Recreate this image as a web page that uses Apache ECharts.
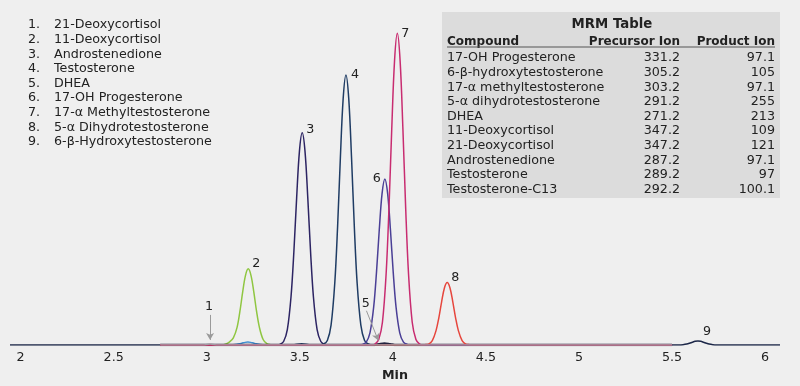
<!DOCTYPE html>
<html>
<head>
<meta charset="utf-8">
<script src="https://cdn.jsdelivr.net/npm/echarts@6/dist/echarts.min.js"></script>
<style>
html,body{margin:0;padding:0;background:#efefef;}
#c{width:800px;height:386px;}
</style>
</head>
<body>
<div id="c"></div>
<script>
// ---- Data (time in min, relative intensity %) ----
const xTicks = [2, 2.5, 3, 3.5, 4, 4.5, 5, 5.5, 6];

const legendNames = ['21-Deoxycortisol','11-Deoxycortisol','Androstenedione','Testosterone','DHEA',
  '17-OH Progesterone','17-α Methyltestosterone','5-α Dihydrotestosterone','6-β-Hydroxytestosterone'];

const tableCompounds = ['17-OH Progesterone','6-β-hydroxytestosterone','17-α methyltestosterone',
  '5-α dihydrotestosterone','DHEA','11-Deoxycortisol','21-Deoxycortisol','Androstenedione','Testosterone','Testosterone-C13'];
const tablePrecursor = ['331.2','305.2','303.2','291.2','271.2','347.2','347.2','287.2','289.2','292.2'];
const tableProduct = ['97.1','105','97.1','255','213','109','121','97.1','97','100.1'];

// 9: 6-β-Hydroxytestosterone (spans whole run)
const trace9 = [[1.943,0],[5.52,0],[5.539,0],[5.559,0.09],[5.579,0.29],[5.594,0.55],[5.609,0.87],[5.624,1.15],
  [5.639,1.25],[5.654,1.15],[5.669,0.87],[5.684,0.55],[5.699,0.29],[5.719,0.09],[5.739,0],[6.08,0]];
// 2: 11-Deoxycortisol
const trace2 = [[2.75,0],[3.08,0],[3.103,0.3],[3.123,1.0],[3.143,2.2],[3.163,5.5],[3.178,10.4],[3.193,16.5],[3.208,21.7],
  [3.223,23.8],[3.238,21.7],[3.253,16.5],[3.268,10.4],[3.283,5.5],[3.303,1.7],[3.323,0.4],[3.343,0.1],[3.37,0],[5.5,0]];
// Testosterone-C13 (small blue bump)
const traceC13 = [[2.75,0],[3.10,0],[3.121,0],[3.141,0.07],[3.161,0.21],[3.176,0.39],[3.191,0.62],[3.206,0.82],
  [3.221,0.9],[3.236,0.82],[3.251,0.62],[3.266,0.39],[3.281,0.21],[3.301,0.07],[3.321,0],[5.5,0]];
// 3: Androstenedione
const trace3 = [[2.75,0],[3.37,0],[3.393,0.2],[3.413,1.1],[3.433,4.8],[3.453,15.2],[3.468,29.0],[3.483,45.9],[3.498,60.5],
  [3.513,66.3],[3.528,60.5],[3.543,45.9],[3.558,29.0],[3.573,15.2],[3.593,4.8],[3.613,1.1],[3.633,0.2],[3.66,0],[5.5,0]];
// 4: Testosterone
const trace4 = [[2.75,0],[3.44,0],[3.47,0.1],[3.51,0.4],[3.55,0.1],[3.60,0],[3.628,0.3],[3.648,1.4],[3.668,6.2],[3.688,19.4],
  [3.703,36.9],[3.718,58.5],[3.733,77.0],[3.748,84.4],[3.763,77.0],[3.778,58.5],[3.793,36.9],[3.808,19.4],
  [3.828,6.2],[3.848,1.4],[3.868,0.3],[3.895,0],[5.5,0]];
// 5: DHEA
const trace5 = [[2.75,0],[3.90,0],[3.925,0.25],[3.955,0.5],[3.985,0.25],[4.01,0],[5.5,0]];
// 6: 17-OH Progesterone
const trace6 = [[2.75,0],[3.81,0],[3.837,0.2],[3.857,0.9],[3.877,3.8],[3.897,11.9],[3.912,22.7],[3.927,36.0],[3.942,47.3],
  [3.957,51.9],[3.972,47.3],[3.987,36.0],[4.002,22.7],[4.017,11.9],[4.037,3.8],[4.057,0.9],[4.077,0.2],[4.10,0],[5.5,0]];
// 8: 5-α Dihydrotestosterone
const trace8 = [[2.75,0],[4.15,0],[4.172,0.1],[4.192,0.3],[4.212,1.4],[4.232,4.5],[4.247,8.5],[4.262,13.5],[4.277,17.8],
  [4.292,19.5],[4.307,17.8],[4.322,13.5],[4.337,8.5],[4.352,4.5],[4.372,1.4],[4.392,0.3],[4.412,0.1],[4.44,0],[5.5,0]];
// 7: 17-α Methyltestosterone
const trace7 = [[2.75,0],[3.88,0],[3.904,0.3],[3.924,1.7],[3.944,7.1],[3.964,22.4],[3.979,42.6],[3.994,67.5],[4.009,88.8],
  [4.024,97.4],[4.039,88.8],[4.054,67.5],[4.069,42.6],[4.084,22.4],[4.104,7.1],[4.124,1.7],[4.144,0.3],[4.17,0],[5.5,0]];
// 1: 21-Deoxycortisol
const trace1 = [[2.75,0],[2.98,0],[3.00,0.15],[3.018,0.3],[3.036,0.15],[3.06,0],[5.5,0]];

// annotation arrows (data coords)
const arrow1 = [[3.018,9.4],[3.018,1.6]];
const arrow5 = [[3.858,10.7],[3.922,1.4]];
const arrowLabel1 = [3.012,12.0];
const arrowLabel5 = [3.854,13.0];

// ---- Chart ----
const FONT = 'DejaVu Sans';
const FS = 12.7;
const chart = echarts.init(document.getElementById('c'));

function peakOf(d){ let m=d[0]; d.forEach(p=>{ if(p[1]>m[1]) m=p; }); return m; }
function labelMark(text, coord, off){
  return {
    symbol:'circle', symbolSize:1, silent:true,
    itemStyle:{color:'rgba(0,0,0,0)'},
    label:{show:true, position:'inside', offset:off, formatter:text, color:'#222', fontSize:FS, fontFamily:FONT},
    data:[{coord:coord}]
  };
}
function arrowLine(a){
  return {
    silent:true, symbol:['none','arrow'], symbolSize:[6,7],
    lineStyle:{color:'#9a9a9a', width:1, type:'solid'},
    label:{show:false},
    data:[[{coord:a[0]},{coord:a[1]}]]
  };
}
function line(name, data, color, extra){
  return Object.assign({
    type:'line', name:name, data:data, showSymbol:false, symbol:'none',
    smooth:0.35, animation:false,
    lineStyle:{color:color, width:1.5}, itemStyle:{color:color}
  }, extra||{});
}

const series = [
  line('9', trace9, '#1c2748', {markPoint: labelMark('9', peakOf(trace9), [9,-9])}),
  line('C13', traceC13, '#3f8fd2'),
  line('2', trace2, '#8fc641', {markPoint: labelMark('2', peakOf(trace2), [8,-5])}),
  line('3', trace3, '#2c2463', {markPoint: labelMark('3', peakOf(trace3), [8,-3])}),
  line('4', trace4, '#1f3c64', {markPoint: labelMark('4', peakOf(trace4), [9,0])}),
  line('5', trace5, '#22223f', {lineStyle:{color:'#22223f', width:2.5}, markPoint: labelMark('5', arrowLabel5, [0,0]), markLine: arrowLine(arrow5)}),
  line('6', trace6, '#4a3f96', {markPoint: labelMark('6', peakOf(trace6), [-8,0])}),
  line('8', trace8, '#e6463d', {markPoint: labelMark('8', peakOf(trace8), [8,-5])}),
  line('7', trace7, '#c82c70', {markPoint: labelMark('7', peakOf(trace7), [8,0])}),
  line('1', trace1, '#a39ca4', {markPoint: labelMark('1', arrowLabel1, [0,0]), markLine: arrowLine(arrow1)})
];

// graphic: compound list and MRM table
const graphic = [];
const rowH = 14.6;
legendNames.forEach((n,i)=>{
  const y = 25 + i*rowH;
  graphic.push({type:'text', x:28, y:y, style:{text:(i+1)+'.', fill:'#222', font:FS+'px '+FONT, align:'left', verticalAlign:'middle'}});
  graphic.push({type:'text', x:54, y:y, style:{text:n, fill:'#222', font:FS+'px '+FONT, align:'left', verticalAlign:'middle'}});
});
graphic.push({type:'rect', shape:{x:442, y:12, width:338, height:186}, style:{fill:'#dcdcdc'}, z:-1});
graphic.push({type:'text', x:612, y:25, style:{text:'MRM Table', fill:'#222', font:'bold 13.3px '+FONT, align:'center', verticalAlign:'middle'}});
graphic.push({type:'text', x:447, y:41.5, style:{text:'Compound', fill:'#222', font:'bold 12px '+FONT, align:'left', verticalAlign:'middle'}});
graphic.push({type:'text', x:680, y:41.5, style:{text:'Precursor Ion', fill:'#222', font:'bold 12px '+FONT, align:'right', verticalAlign:'middle'}});
graphic.push({type:'text', x:775, y:41.5, style:{text:'Product Ion', fill:'#222', font:'bold 12px '+FONT, align:'right', verticalAlign:'middle'}});
graphic.push({type:'line', shape:{x1:447, y1:47, x2:775, y2:47}, style:{stroke:'#555', lineWidth:1}});
tableCompounds.forEach((c,i)=>{
  const y = 58 + i*rowH;
  graphic.push({type:'text', x:447, y:y, style:{text:c, fill:'#222', font:FS+'px '+FONT, align:'left', verticalAlign:'middle'}});
  graphic.push({type:'text', x:680, y:y, style:{text:tablePrecursor[i], fill:'#222', font:FS+'px '+FONT, align:'right', verticalAlign:'middle'}});
  graphic.push({type:'text', x:775, y:y, style:{text:tableProduct[i], fill:'#222', font:FS+'px '+FONT, align:'right', verticalAlign:'middle'}});
});

chart.setOption({
  backgroundColor:'#efefef',
  animation:false,
  grid:{left:10, right:20, top:25, bottom:41, containLabel:false, outerBoundsMode:'none'},
  xAxis:{
    type:'value', min:1.943, max:6.08,
    name:'Min', nameLocation:'middle', nameGap:24,
    nameTextStyle:{fontFamily:FONT, fontSize:FS, fontWeight:'bold', color:'#222'},
    axisLine:{show:false}, axisTick:{show:false}, splitLine:{show:false},
    axisLabel:{customValues:xTicks, margin:6, color:'#222', fontFamily:FONT, fontSize:FS,
      formatter:v=>String(v)}
  },
  yAxis:{type:'value', min:0, max:100, show:false, splitLine:{show:false}},
  series:series,
  graphic:graphic
});
</script>
</body>
</html>
